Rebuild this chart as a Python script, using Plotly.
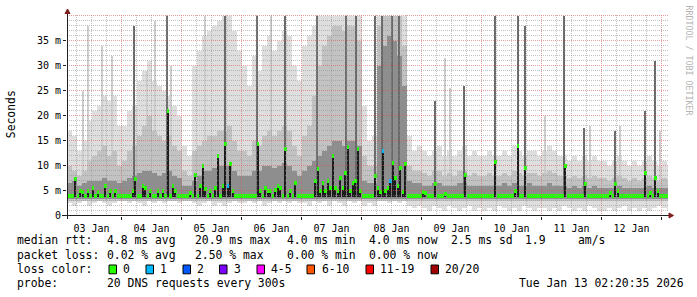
import plotly.graph_objects as go
import pandas as pd

# ---------------- data (values in ms) ----------------
RANGE_START = "2026-01-03 02:12:00"
RANGE_END = "2026-01-13 02:36:00"

# 2-hour smoke bins, first bin starts 2026-01-03 02:00
smoke_max = [
    17, 16, 13, 15, 19, 21, 22, 24, 23, 24, 18,
    18, 21, 22, 27, 29, 31, 27, 26, 25, 24, 22, 20,
    14, 12, 30, 33, 36, 37, 38, 39, 40, 40, 37, 33,
    30, 26, 32, 29, 34, 36, 33, 35, 37, 36, 30, 27,
    34, 36, 38, 40, 40, 40, 40, 40, 40, 40, 40, 40,
    22, 15, 16, 40, 40, 40, 40, 40, 40, 16, 13, 14,
    13, 12, 13, 14, 12, 13, 12, 13, 14, 12, 13, 12,
    12, 13, 12, 12, 13, 12, 14, 13, 12, 13, 13, 12,
    13, 14, 13, 12, 12, 11, 12, 11, 12, 11, 12, 11,
    11, 10, 11, 12, 11, 10, 11, 10, 11, 12, 11, 10,
    11, 10,
]
smoke_mid = [
    10, 9, 8, 9, 11, 12, 13, 14, 12, 13, 10,
    11, 13, 14, 16, 18, 20, 17, 16, 15, 16, 14, 13,
    9, 8, 13, 14, 15, 16, 16, 17, 17, 18, 15, 13,
    13, 12, 15, 14, 16, 17, 16, 17, 18, 17, 14, 12,
    16, 18, 24, 30, 34, 36, 38, 38, 37, 38, 38, 35,
    12, 10, 10, 38, 40, 40, 40, 40, 34, 10, 9, 9,
    8.5, 8, 9, 9, 8, 8.5, 8, 9, 9, 8, 8.5, 8,
    8, 8.5, 8, 8, 8.5, 8, 9, 8.5, 8, 8.5, 8.5, 8,
    8.5, 9, 8.5, 8, 8, 7.5, 8, 7.5, 8, 7.5, 8, 7.5,
    7.5, 7, 7.5, 8, 7.5, 7, 7.5, 7, 7.5, 8, 7.5, 7,
    7.5, 7,
]
smoke_dark = [
    6.5, 7, 6, 6.5, 7, 7, 7, 7.5, 7, 7, 6.5,
    7, 7.5, 8, 8.5, 9, 9, 8.5, 8, 8.5, 9, 8, 7.5,
    6, 6, 7, 8, 9, 9, 9.5, 10, 10, 10, 9, 8,
    8, 8, 9, 9, 10, 10, 9.5, 10, 10.5, 10, 9, 8,
    9, 10, 11, 12, 13, 14, 15, 15, 14, 15, 15, 14,
    7, 6.5, 6.5, 30, 34, 36, 35, 32, 26, 7, 6.5, 6.5,
    6, 6, 6.5, 6.5, 6, 6, 6, 6.5, 6.5, 6, 6, 6,
    6, 6, 6, 6, 6.5, 6, 6.5, 6, 6, 6.5, 6, 6,
    6, 6.5, 6, 6, 6, 5.5, 6, 5.5, 6, 5.5, 6, 5.5,
    5.5, 5.5, 5.5, 6, 5.5, 5.5, 5.5, 5.5, 5.5, 6, 5.5, 5.5,
    5.5, 5.5,
]
smoke_min = [
    2.5, 2, 2.5, 3, 2, 2.5, 3, 2.5, 2, 2.5, 3,
    3, 2.5, 3, 2.5, 2, 3, 2.5, 3, 2.5, 3, 3, 2.5,
    3, 3, 2.5, 2, 2.5, 3, 2, 2.5, 2, 2.5, 3, 2.5,
    2.5, 3, 2.5, 3, 2, 2.5, 3, 2.5, 3, 2.5, 3, 2.5,
    2.5, 2, 3, 2.5, 3, 2, 3, 2.5, 2, 3, 2.5, 3,
    2, 2.5, 2, 3, 3, 2.5, 3, 2.5, 3, 2, 1.5, 2,
    1.5, 1, 2, 1.5, 1, 2, 1.5, 1, 1.5, 2, 1, 1.5,
    1, 1.5, 1, 2, 1.5, 1, 1.5, 1, 2, 1.5, 1, 1.5,
    1.5, 1, 1.5, 1, 2, 1.5, 1, 1.5, 1, 2, 1.5, 1,
    1, 1.5, 1, 1.5, 2, 1, 1.5, 1, 1.5, 1, 1.5, 2,
    1.5, 1,
]

# hourly median rtt, first hour starts 2026-01-03 02:00
median_rtt = [
    4, 4, 4, 7.3, 4, 5, 4.8, 4, 5, 4, 5.5, 4, 4.8, 4, 4, 6, 4, 5, 4, 5, 4, 4,
    4, 4, 4, 4, 5, 7.3, 4, 4, 6, 5.5, 4, 5, 4, 4, 5, 4, 5, 4, 20.9, 4, 6, 5, 4, 4,
    4, 4, 4, 4.6, 4, 8.2, 4, 6, 10, 5.3, 4, 5, 4, 5.5, 12, 4, 6, 14.4, 6, 10.3, 5, 4, 4, 4,
    4, 4, 4, 4, 4, 4, 14.4, 5, 4, 5.5, 5, 5, 4, 5.2, 6, 5.5, 4, 13.3, 4, 5, 4, 6.5, 4, 4,
    4, 4, 4, 4, 4, 7, 9.3, 5, 6.5, 5, 7, 5.5, 12, 5.5, 5, 7.6, 5.5, 8.5, 13.7, 5, 6.5, 7, 13.3, 5,
    4, 4, 4, 4, 4, 8, 5.5, 4.8, 13, 5, 5.5, 7, 10.6, 7.5, 6, 9.6, 4.8, 10.4, 4, 4, 4, 4, 4, 4,
    4.8, 4.5, 4, 4, 4, 6.3, 4, 4, 4, 4.3, 4, 4, 4, 4, 4, 4, 4, 8.2, 4, 4, 4, 4, 4, 4,
    4, 4, 4, 4, 4, 10.8, 4, 4, 4, 4, 4, 4, 4, 5, 13.9, 4, 4, 9.6, 4, 4, 4, 4, 4, 4,
    4, 4, 4, 4, 4, 4, 4, 4, 4, 10, 4, 4, 4, 4, 4, 4, 4, 6.4, 4, 4, 4, 4, 4, 4,
    4, 4, 4, 4.5, 4, 6.4, 5, 4, 4, 4, 4, 4, 4, 4, 4, 4, 4, 8.6, 4, 4.5, 4, 7.6, 5, 4,
    4, 4, 4,
]

# hours whose median was drawn with a loss colour (lost pings out of 20)
loss_hours = ["2026-01-05 18:00", "2026-01-08 08:00", "2026-01-08 11:00"]
loss_counts = [1, 1, 1]

# tall dark smoke columns
spike_times = ["2026-01-04 05:12", "2026-01-04 18:24", "2026-01-05 17:36", "2026-01-06 06:24",
               "2026-01-06 17:36", "2026-01-07 06:24", "2026-01-07 18:00", "2026-01-07 22:00",
               "2026-01-08 05:36", "2026-01-08 08:24", "2026-01-08 12:24", "2026-01-08 15:12",
               "2026-01-09 05:36", "2026-01-09 17:12", "2026-01-10 05:36", "2026-01-10 14:48",
               "2026-01-10 17:36", "2026-01-11 09:12", "2026-01-11 17:12", "2026-01-12 05:36",
               "2026-01-12 17:36", "2026-01-12 21:36"]
spike_tops = [38, 40, 40, 40, 40, 40, 40, 40, 40, 40, 40, 40, 23, 26, 40, 40, 38, 40, 17.6, 17, 21, 31]

# thin light smoke wisps
wisp_times = ["2026-01-03 08:48", "2026-01-03 10:48", "2026-01-03 16:24", "2026-01-03 20:24",
              "2026-01-04 10:24", "2026-01-04 13:36", "2026-01-04 20:00", "2026-01-05 09:36",
              "2026-01-06 12:00", "2026-01-09 09:36", "2026-01-09 11:36", "2026-01-11 01:36",
              "2026-01-11 19:36", "2026-01-12 07:36", "2026-01-12 23:36"]
wisp_tops = [25, 38, 34, 32, 29, 39, 30, 40, 40, 31.5, 25.5, 20, 18, 18, 17]

y_tick_values = [0, 5, 10, 15, 20, 25, 30, 35]
y_tick_labels = ["0", "5 m", "10 m", "15 m", "20 m", "25 m", "30 m", "35 m"]

loss_labels = ["0", "1", "2", "3", "4-5", "6-10", "11-19", "20/20"]
loss_colors = ["#26ff00", "#00b8ff", "#0059ff", "#7e00ff", "#ff00ff", "#ff5500", "#ff0000", "#a10000"]

legend_rows = [
    [("median rtt:", 16.7), ("4.8 ms avg", 106.7), ("20.9 ms max", 195), ("4.0 ms min", 286.7),
     ("4.0 ms now", 369), ("2.5 ms sd", 451), ("1.9", 525), ("am/s", 578.3)],
    [("packet loss:", 16.7), ("0.02 % avg", 106.7), ("2.50 % max", 195), ("0.00 % min", 286.7),
     ("0.00 % now", 369)],
]
probe_text = "20 DNS requests every 300s"
stamp_text = "Tue Jan 13 02:20:35 2026"

# ---------------- styling ----------------
W, H = 697, 297
ML, MR, MT, MB = 67, 29, 15, 81
PW, PH = W - ML - MR, H - MT - MB
MONO = "DejaVu Sans Mono"
LIGHT, WISP, MID, DARK, SPIKE, MEDCOL = "#dedede", "#cdcdcd", "#c2c2c2", "#8e8e8e", "#6a6a6a", "#1c1c1c"
GRID = "rgba(143,143,143,0.55)"
MGRID = "rgba(222,79,79,0.55)"
AXIS = "#1f1f1f"
ARROW = "#801f1f"
FLOOR_MID, FLOOR_DARK, FLOOR_COL = 3.0, 3.4, 3.8
BAND = 0.8


def pxp(x):
    return (x - ML) / PW


def pyp(y):
    return (MT + PH - y) / PH


HOUR = 3600 * 1000
bin_centers = pd.date_range("2026-01-03 03:00", periods=len(smoke_max), freq="2h")
hour_centers = pd.date_range("2026-01-03 02:30", periods=len(median_rtt), freq="1h")

fig = go.Figure()


def bars(x, base, top, color, width):
    fig.add_bar(x=x, base=base, y=[t - b for t, b in zip(top, base)], width=width,
                marker=dict(color=color, line=dict(width=0)), hoverinfo="skip")


bars(bin_centers, smoke_min, smoke_max, LIGHT, 2 * HOUR)
bars(pd.to_datetime(wisp_times), [FLOOR_COL] * len(wisp_tops), wisp_tops, WISP, 0.45 * HOUR)
bars(bin_centers, [FLOOR_MID] * len(smoke_mid), smoke_mid, MID, 2 * HOUR)
bars(bin_centers, [FLOOR_DARK] * len(smoke_dark), smoke_dark, DARK, 2 * HOUR)
bars(pd.to_datetime(spike_times), [FLOOR_COL] * len(spike_tops), spike_tops, SPIKE, 0.45 * HOUR)
bars(hour_centers, [FLOOR_COL] * len(median_rtt), median_rtt, MEDCOL, 0.8 * HOUR)

loss_lookup = dict(zip(pd.to_datetime(loss_hours), loss_counts))
band_colors = []
for t in hour_centers:
    n = loss_lookup.get(t.floor("h"), 0)
    band_colors.append(loss_colors[min(n, 3)] if n <= 3 else loss_colors[4])
fig.add_bar(x=hour_centers, base=[m - BAND / 2 for m in median_rtt], y=[BAND] * len(median_rtt),
            width=HOUR, marker=dict(color=band_colors, line=dict(width=0)), hoverinfo="skip")

# grid drawn above the smoke (as rrdtool does)
for t in pd.date_range("2026-01-03 06:00", "2026-01-13 00:00", freq="6h"):
    fig.add_shape(type="line", xref="x", yref="paper", x0=t, x1=t, y0=pyp(216), y1=pyp(15), layer="above",
                  line=dict(color=MGRID if t.hour == 0 else GRID, width=1, dash="1px,1px"))
for v in range(1, 41):
    fig.add_shape(type="line", xref="paper", yref="y", x0=0, x1=1, y0=v, y1=v, layer="above",
                  line=dict(color=MGRID if v % 5 == 0 else GRID, width=1, dash="1px,1px"))

# axes lines and arrows
fig.add_shape(type="line", xref="paper", yref="paper", x0=pxp(62), x1=pxp(670), y0=pyp(215.5),
              y1=pyp(215.5), line=dict(color=AXIS, width=1), layer="above")
fig.add_shape(type="line", xref="paper", yref="paper", x0=pxp(67.5), x1=pxp(67.5), y0=pyp(219),
              y1=pyp(11), line=dict(color=AXIS, width=1), layer="above")
fig.add_shape(type="path", xref="paper", yref="paper", layer="above", fillcolor=ARROW,
              line=dict(color=ARROW, width=1),
              path=f"M {pxp(65)},{pyp(13.5)} L {pxp(67.5)},{pyp(9)} L {pxp(70)},{pyp(13.5)} Z")
fig.add_shape(type="path", xref="paper", yref="paper", layer="above", fillcolor=ARROW,
              line=dict(color=ARROW, width=1),
              path=f"M {pxp(669)},{pyp(213)} L {pxp(673.5)},{pyp(215.5)} L {pxp(669)},{pyp(218)} Z")

ann = []
ann.append(dict(text="Seconds", x=pxp(11.2), y=pyp(114), xref="paper", yref="paper", textangle=-90,
                xanchor="center", yanchor="middle", borderpad=0, borderwidth=0,
                showarrow=False, font=dict(family=MONO, size=11.4, color="black")))
ann.append(dict(text="RRDTOOL / TOBI OETIKER", x=pxp(688.5), y=pyp(5), xref="paper", yref="paper",
                textangle=90, xanchor="center", yanchor="top", showarrow=False,
                borderpad=0, borderwidth=0,
                font=dict(family=MONO, size=8.3, color="#b4b4b4")))


def label(txt, xs, yc, anchor="left"):
    ann.append(dict(text=txt, x=pxp(xs), y=pyp(yc), xref="paper", yref="paper", xanchor=anchor,
                    yanchor="middle", showarrow=False, borderpad=0, borderwidth=0,
                    font=dict(family=MONO, size=11.4, color="black")))


row_y = [239.5, 254.5, 269.3, 283.3]
for row, yc in zip(legend_rows, row_y):
    for txt, xs in row:
        label(txt, xs, yc)
label("loss color:", 16.7, row_y[2])
box_x = [109, 146, 183, 219.5, 257, 307, 366, 431]
lab_x = [123.3, 160, 197.3, 234, 270.7, 321.7, 380, 445]
for lab, col, bx, lx in zip(loss_labels, loss_colors, box_x, lab_x):
    fig.add_shape(type="rect", xref="paper", yref="paper", x0=pxp(bx), x1=pxp(bx + 7.5),
                  y0=pyp(273.8), y1=pyp(265), fillcolor=col, line=dict(color="black", width=1))
    label(lab, lx, row_y[2])
label("probe:", 16.7, row_y[3])
label(probe_text, 106.7, row_y[3])
label(stamp_text, 683.5, row_y[3], anchor="right")

fig.update_layout(
    width=W, height=H, autosize=False,
    margin=dict(l=ML, r=MR, t=MT, b=MB, pad=0),
    paper_bgcolor="white", plot_bgcolor="white",
    barmode="overlay", bargap=0, showlegend=False,
    annotations=ann,
    xaxis=dict(type="date", range=[RANGE_START, RANGE_END], showgrid=False, zeroline=False,
               showline=False, tick0="2026-01-03", dtick=86400000, tickformat="%d %b",
               ticklabelmode="period", ticks="outside", ticklen=3, tickcolor=AXIS,
               tickfont=dict(family=MONO, size=10, color="black")),
    yaxis=dict(range=[-0.1, 40.1], showgrid=False, zeroline=False, showline=False,
               tickvals=y_tick_values, ticktext=y_tick_labels, ticks="outside", ticklen=3,
               tickcolor=AXIS, tickfont=dict(family=MONO, size=10, color="black")),
)

fig.write_html("out.html")
